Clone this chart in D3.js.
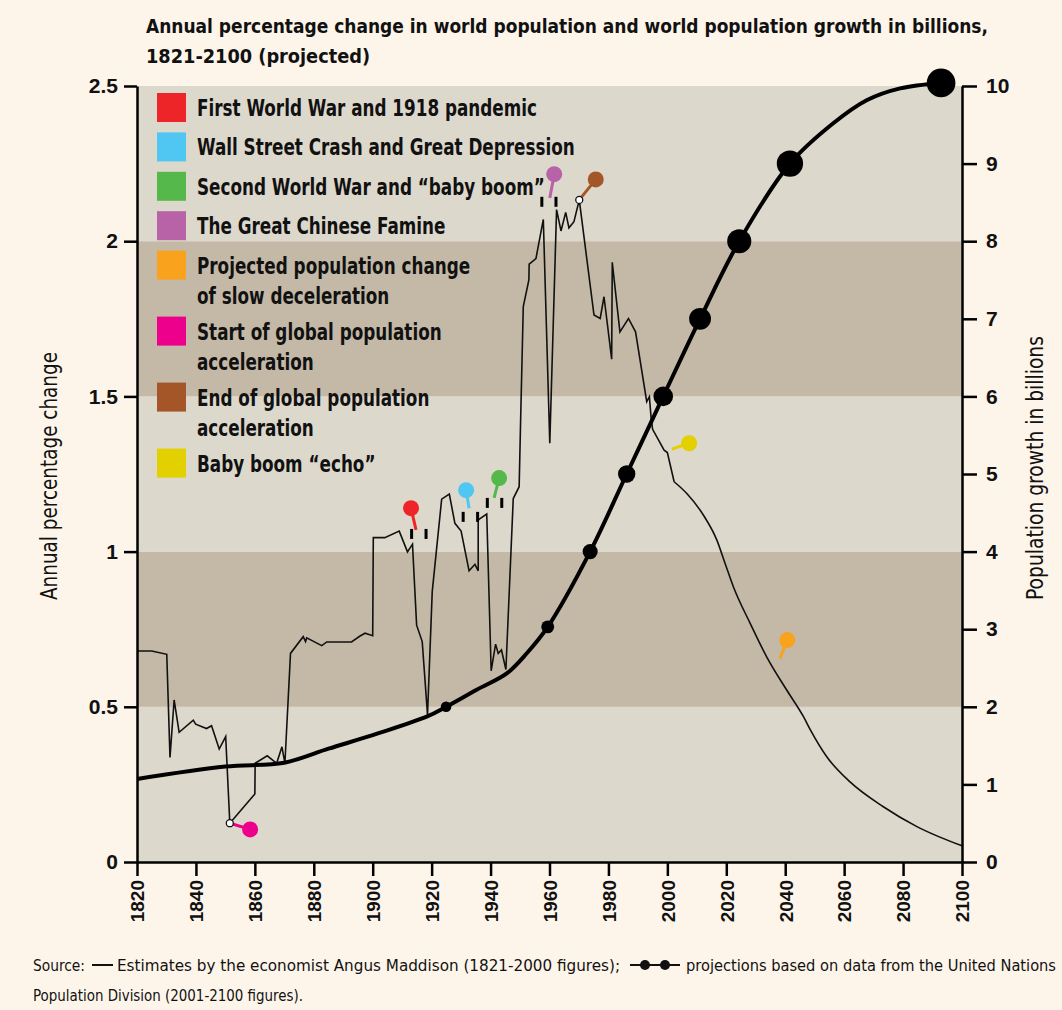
<!DOCTYPE html>
<html>
<head>
<meta charset="utf-8">
<script src="https://cdn.jsdelivr.net/npm/d3@7"></script>
<style>
  body { margin: 0; background: #fdf5ea; }
  svg { display: block; }
  text { font-family: "Liberation Sans Narrow", "DejaVu Sans Condensed", sans-serif; fill: #111; }
</style>
</head>
<body>
<div id="wrapper"></div>
<script>
// annual percentage change, Maddison estimates
const changeYears = [1820, 1825, 1830.1, 1831.2, 1832.6, 1834.3, 1839.1, 1839.9, 1843.6, 1845.3, 1847.9, 1850.1, 1851.5,
  1860, 1860.1, 1864.2, 1867.4, 1869.2, 1870.2, 1872.1, 1876.4, 1877.2, 1877.6, 1882.7, 1884.4, 1892.8, 1895.7, 1897.4, 1900,
  1900.2, 1904.1, 1909, 1911.8, 1913.5, 1914.9, 1916.8, 1918.6, 1920.2, 1923.4, 1926, 1927.9, 1930, 1932.7, 1934.7, 1935.8,
  1935.8, 1938.7, 1940.2, 1941.7, 1942.6, 1943.7, 1945.2, 1947.7, 1949.7, 1950.2, 1951.1, 1953, 1953.1, 1955.4, 1957.9,
  1960.1, 1962.4, 1963.9, 1965.5, 1966.6, 1968.3, 1970.1, 1975.1, 1977.2, 1978.5, 1981.1, 1981.3, 1983.9, 1986.8, 1989.2,
  1993, 1993.9, 1994.5, 1995, 1998.9, 2000, 2002.3]
const changeValues = [0.68, 0.68, 0.669, 0.337, 0.522, 0.418, 0.457, 0.444, 0.43, 0.439, 0.364, 0.404, 0.125,
  0.219, 0.318, 0.342, 0.318, 0.371, 0.318, 0.672, 0.726, 0.71, 0.722, 0.697, 0.709, 0.709, 0.728, 0.737, 0.729,
  1.045, 1.045, 1.066, 0.999, 1.024, 0.763, 0.71, 0.474, 0.871, 1.169, 1.185, 1.091, 1.066, 0.938, 0.959, 0.938,
  1.102, 1.121, 0.616, 0.702, 0.672, 0.683, 0.62, 1.171, 1.209, 1.424, 1.789, 1.875, 1.926, 1.944, 2.07,
  1.349, 2.102, 2.033, 2.093, 2.043, 2.063, 2.133, 1.762, 1.751, 1.821, 1.62, 1.932, 1.708, 1.751, 1.708,
  1.483, 1.499, 1.429, 1.394, 1.327, 1.319, 1.225]

// projected annual percentage change
const projYears = [2002.3, 2006.6, 2012.2, 2016.8, 2019.6, 2022.4, 2028.1, 2033.7, 2040.5, 2046.2, 2048.4, 2054.1, 2062, 2073.3, 2084.7, 2100]
const projValues = [1.225, 1.187, 1.118, 1.037, 0.962, 0.887, 0.769, 0.661, 0.554, 0.468, 0.428, 0.339, 0.258, 0.178, 0.114, 0.052]

// world population, billions
const popYears = [1820, 1850, 1870, 1885, 1902, 1918.7, 1924.9, 1935.3, 1945.5, 1952.3, 1959.4, 1973.8, 1986.2, 1998.6,
  2011.1, 2024.4, 2041.6, 2056.3, 2067.8, 2079, 2092.9]
const popValues = [1.07, 1.23, 1.28, 1.46, 1.66, 1.88, 2.0, 2.22, 2.43, 2.69, 3.03, 4.0, 5.0, 6.0,
  7.0, 8.0, 9.0, 9.52, 9.82, 9.97, 10.04]

// each additional billion
const milestoneYears = [1924.9, 1959.4, 1973.8, 1986.2, 1998.6, 2011.1, 2024.4, 2041.6, 2092.9]
const milestoneValues = [2, 3.03, 4, 5, 6, 7, 8, 9, 10.04]

// events (legend order)
const eventLabels = [
  ["First World War and 1918 pandemic"],
  ["Wall Street Crash and Great Depression"],
  ["Second World War and \u201cbaby boom\u201d"],
  ["The Great Chinese Famine"],
  ["Projected population change", "of slow deceleration"],
  ["Start of global population", "acceleration"],
  ["End of global population", "acceleration"],
  ["Baby boom \u201cecho\u201d"]
]
const eventColors = ["#ed2428", "#4fc7f2", "#55b84a", "#b862a8", "#f8a21e", "#ec008c", "#a45628", "#e2d000"]
const pinYears = [1913.0, 1931.7, 1942.9, 1961.6, 2040.7, 1858.4, 1975.7, 2007.4]
const pinValues = [1.140, 1.198, 1.237, 2.216, 0.715, 0.105, 2.199, 1.349]
const tipYears = [1914.7, 1932.7, 1941.2, 1960.1, 2038.2, 1851.6, 1970.1, 2001.5]
const tipValues = [1.070, 1.140, 1.173, 2.139, 0.656, 0.125, 2.133, 1.330]

// period brackets
const markYears = [1913.2, 1918.1, 1930.7, 1935.6, 1938.9, 1943.8, 1957.4, 1962.2]
const markValues = [1.073, 1.073, 1.128, 1.128, 1.173, 1.173, 2.143, 2.143]

// open markers on the line
const hollowYears = [1851.5, 1970.1]
const hollowValues = [0.125, 2.133]

const xTicks = d3.range(1820, 2101, 20)
const yTicks = [0, 0.5, 1, 1.5, 2, 2.5]
const y2Ticks = d3.range(0, 11)

const width = 1062
const height = 1010
const margin = { top: 86, right: 100, bottom: 148, left: 137 }
const boundedWidth = width - margin.left - margin.right
const boundedHeight = height - margin.top - margin.bottom

const svg = d3.select("#wrapper").append("svg")
  .attr("width", width)
  .attr("height", height)

svg.append("rect").attr("width", width).attr("height", height).attr("fill", "#fdf5ea")

const bounds = svg.append("g")
  .attr("transform", `translate(${margin.left},${margin.top})`)

const xScale = d3.scaleLinear().domain([1820, 2100]).range([0, boundedWidth])
const yScale = d3.scaleLinear().domain([0, 2.5]).range([boundedHeight, 0])
const y2Scale = d3.scaleLinear().domain([0, 10]).range([boundedHeight, 0])
const rScale = d3.scaleLinear().domain([2, 10]).range([5.3, 14.3])

// bands
bounds.selectAll("rect.band")
  .data(d3.pairs(yTicks))
  .join("rect")
  .attr("class", "band")
  .attr("x", 0)
  .attr("width", boundedWidth)
  .attr("y", d => yScale(d[1]))
  .attr("height", d => yScale(d[0]) - yScale(d[1]))
  .attr("fill", (d, i) => i % 2 ? "#c4b9a6" : "#ddd8cc")

// legend, condensed to fit the first label into 340px
const legendFont = 22.5
const legend = bounds.append("g").attr("transform", "translate(20,7)")
const probe = legend.append("text").attr("font-size", legendFont).attr("font-weight", "bold").text(eventLabels[0][0])
const squeeze = 340 / probe.node().getComputedTextLength()
probe.remove()
let ly = 0
eventLabels.forEach((lines, i) => {
  const row = legend.append("g").attr("transform", `translate(0,${ly})`)
  row.append("rect").attr("width", 29).attr("height", 29).attr("fill", eventColors[i])
  lines.forEach((line, j) => {
    const t = row.append("text")
      .attr("x", 40)
      .attr("y", 23 + j * 30)
      .attr("font-size", legendFont)
      .attr("font-weight", "bold")
      .text(line)
    t.attr("textLength", t.node().getComputedTextLength() * squeeze)
      .attr("lengthAdjust", "spacingAndGlyphs")
  })
  ly += 39.4 + (lines.length - 1) * 26.6
})

// annual change line
const lineGenerator = d3.line()
  .x(d => xScale(d[0]))
  .y(d => yScale(d[1]))

bounds.append("path")
  .attr("d", lineGenerator(d3.zip(changeYears, changeValues)))
  .attr("fill", "none")
  .attr("stroke", "#111")
  .attr("stroke-width", 1.6)

bounds.append("path")
  .attr("d", lineGenerator.curve(d3.curveMonotoneX)(d3.zip(projYears, projValues)))
  .attr("fill", "none")
  .attr("stroke", "#111")
  .attr("stroke-width", 1.6)

// population line
const popLine = d3.line()
  .x(d => xScale(d[0]))
  .y(d => y2Scale(d[1]))
  .curve(d3.curveCatmullRom.alpha(0.5))

bounds.append("path")
  .attr("d", popLine(d3.zip(popYears, popValues)))
  .attr("fill", "none")
  .attr("stroke", "#000")
  .attr("stroke-width", 4)

bounds.selectAll("circle.milestone")
  .data(d3.zip(milestoneYears, milestoneValues))
  .join("circle")
  .attr("class", "milestone")
  .attr("cx", d => xScale(d[0]))
  .attr("cy", d => y2Scale(d[1]))
  .attr("r", d => rScale(d[1]))
  .attr("fill", "#000")

// brackets
bounds.selectAll("rect.mark")
  .data(d3.zip(markYears, markValues))
  .join("rect")
  .attr("class", "mark")
  .attr("x", d => xScale(d[0]) - 1.5)
  .attr("y", d => yScale(d[1]))
  .attr("width", 3)
  .attr("height", 10)
  .attr("fill", "#000")

// pins
const pins = bounds.selectAll("g.pin")
  .data(eventColors.map((c, i) => ({ c, py: pinYears[i], pv: pinValues[i], ty: tipYears[i], tv: tipValues[i] })))
  .join("g")
  .attr("class", "pin")
pins.append("line")
  .attr("x1", d => xScale(d.py)).attr("y1", d => yScale(d.pv))
  .attr("x2", d => xScale(d.ty)).attr("y2", d => yScale(d.tv))
  .attr("stroke", d => d.c)
  .attr("stroke-width", 3)
pins.append("circle")
  .attr("cx", d => xScale(d.py)).attr("cy", d => yScale(d.pv))
  .attr("r", 8)
  .attr("fill", d => d.c)

bounds.selectAll("circle.hollow")
  .data(d3.zip(hollowYears, hollowValues))
  .join("circle")
  .attr("class", "hollow")
  .attr("cx", d => xScale(d[0]))
  .attr("cy", d => yScale(d[1]))
  .attr("r", 3.5)
  .attr("fill", "#fff")
  .attr("stroke", "#111")
  .attr("stroke-width", 1.3)

// axes
const styleAxis = g => {
  g.selectAll(".domain").attr("stroke", "#000").attr("stroke-width", 2.5)
  g.selectAll(".tick line").attr("stroke", "#000").attr("stroke-width", 2.5)
  g.selectAll("text")
    .attr("fill", "#111")
    .style("font-family", "'Liberation Sans', sans-serif")
    .style("font-weight", "bold")
}

const yAxis = bounds.append("g")
  .call(d3.axisLeft(yScale).tickValues(yTicks).tickSize(13).tickSizeOuter(0).tickPadding(6).tickFormat(d3.format("")))
  .call(styleAxis)
yAxis.selectAll("text").attr("font-size", 21)

const y2Axis = bounds.append("g")
  .attr("transform", `translate(${boundedWidth},0)`)
  .call(d3.axisRight(y2Scale).tickValues(y2Ticks).tickSize(15).tickSizeOuter(0).tickPadding(9))
  .call(styleAxis)
y2Axis.selectAll("text").attr("font-size", 21)

const xAxis = bounds.append("g")
  .attr("transform", `translate(0,${boundedHeight})`)
  .call(d3.axisBottom(xScale).tickValues(xTicks).tickSize(14).tickSizeOuter(0).tickFormat(d3.format("d")))
  .call(styleAxis)
xAxis.selectAll("text")
  .attr("font-size", 19)
  .attr("transform", "rotate(-90)")
  .attr("text-anchor", "end")
  .attr("x", -18)
  .attr("y", 0)
  .attr("dy", "0.36em")

// axis titles
svg.append("text")
  .attr("transform", "translate(57,476) rotate(-90)")
  .attr("text-anchor", "middle")
  .attr("font-size", 23)
  .attr("textLength", 248)
  .attr("lengthAdjust", "spacingAndGlyphs")
  .text("Annual percentage change")

svg.append("text")
  .attr("transform", "translate(1043,468) rotate(-90)")
  .attr("text-anchor", "middle")
  .attr("font-size", 23)
  .attr("textLength", 264)
  .attr("lengthAdjust", "spacingAndGlyphs")
  .text("Population growth in billions")

// title
svg.append("text")
  .attr("x", 146).attr("y", 33)
  .attr("font-size", 20).attr("font-weight", "bold")
  .attr("textLength", 842).attr("lengthAdjust", "spacingAndGlyphs")
  .text("Annual percentage change in world population and world population growth in billions,")
svg.append("text")
  .attr("x", 146).attr("y", 63)
  .attr("font-size", 20).attr("font-weight", "bold")
  .attr("textLength", 224).attr("lengthAdjust", "spacingAndGlyphs")
  .text("1821-2100 (projected)")

// footer
const footer = svg.append("g").attr("font-size", 16)
const fy = 971
const footText = (s, x, w, y) => footer.append("text")
  .attr("x", x).attr("y", y)
  .attr("textLength", w).attr("lengthAdjust", "spacingAndGlyphs")
  .text(s)
footText("Source:", 33, 52, fy)
footer.append("line").attr("x1", 92).attr("x2", 113).attr("y1", fy - 6).attr("y2", fy - 6)
  .attr("stroke", "#111").attr("stroke-width", 2)
footText("Estimates by the economist Angus Maddison (1821-2000 figures);", 117, 503, fy)
footer.append("line").attr("x1", 630).attr("x2", 680).attr("y1", fy - 6).attr("y2", fy - 6)
  .attr("stroke", "#111").attr("stroke-width", 2)
footer.selectAll("circle.fdot").data([645, 665]).join("circle")
  .attr("cx", d => d).attr("cy", fy - 6).attr("r", 5).attr("fill", "#111")
footText("projections based on data from the United Nations", 686, 370, fy)
footText("Population Division (2001-2100 figures).", 33, 270, fy + 30)
</script>
</body>
</html>
